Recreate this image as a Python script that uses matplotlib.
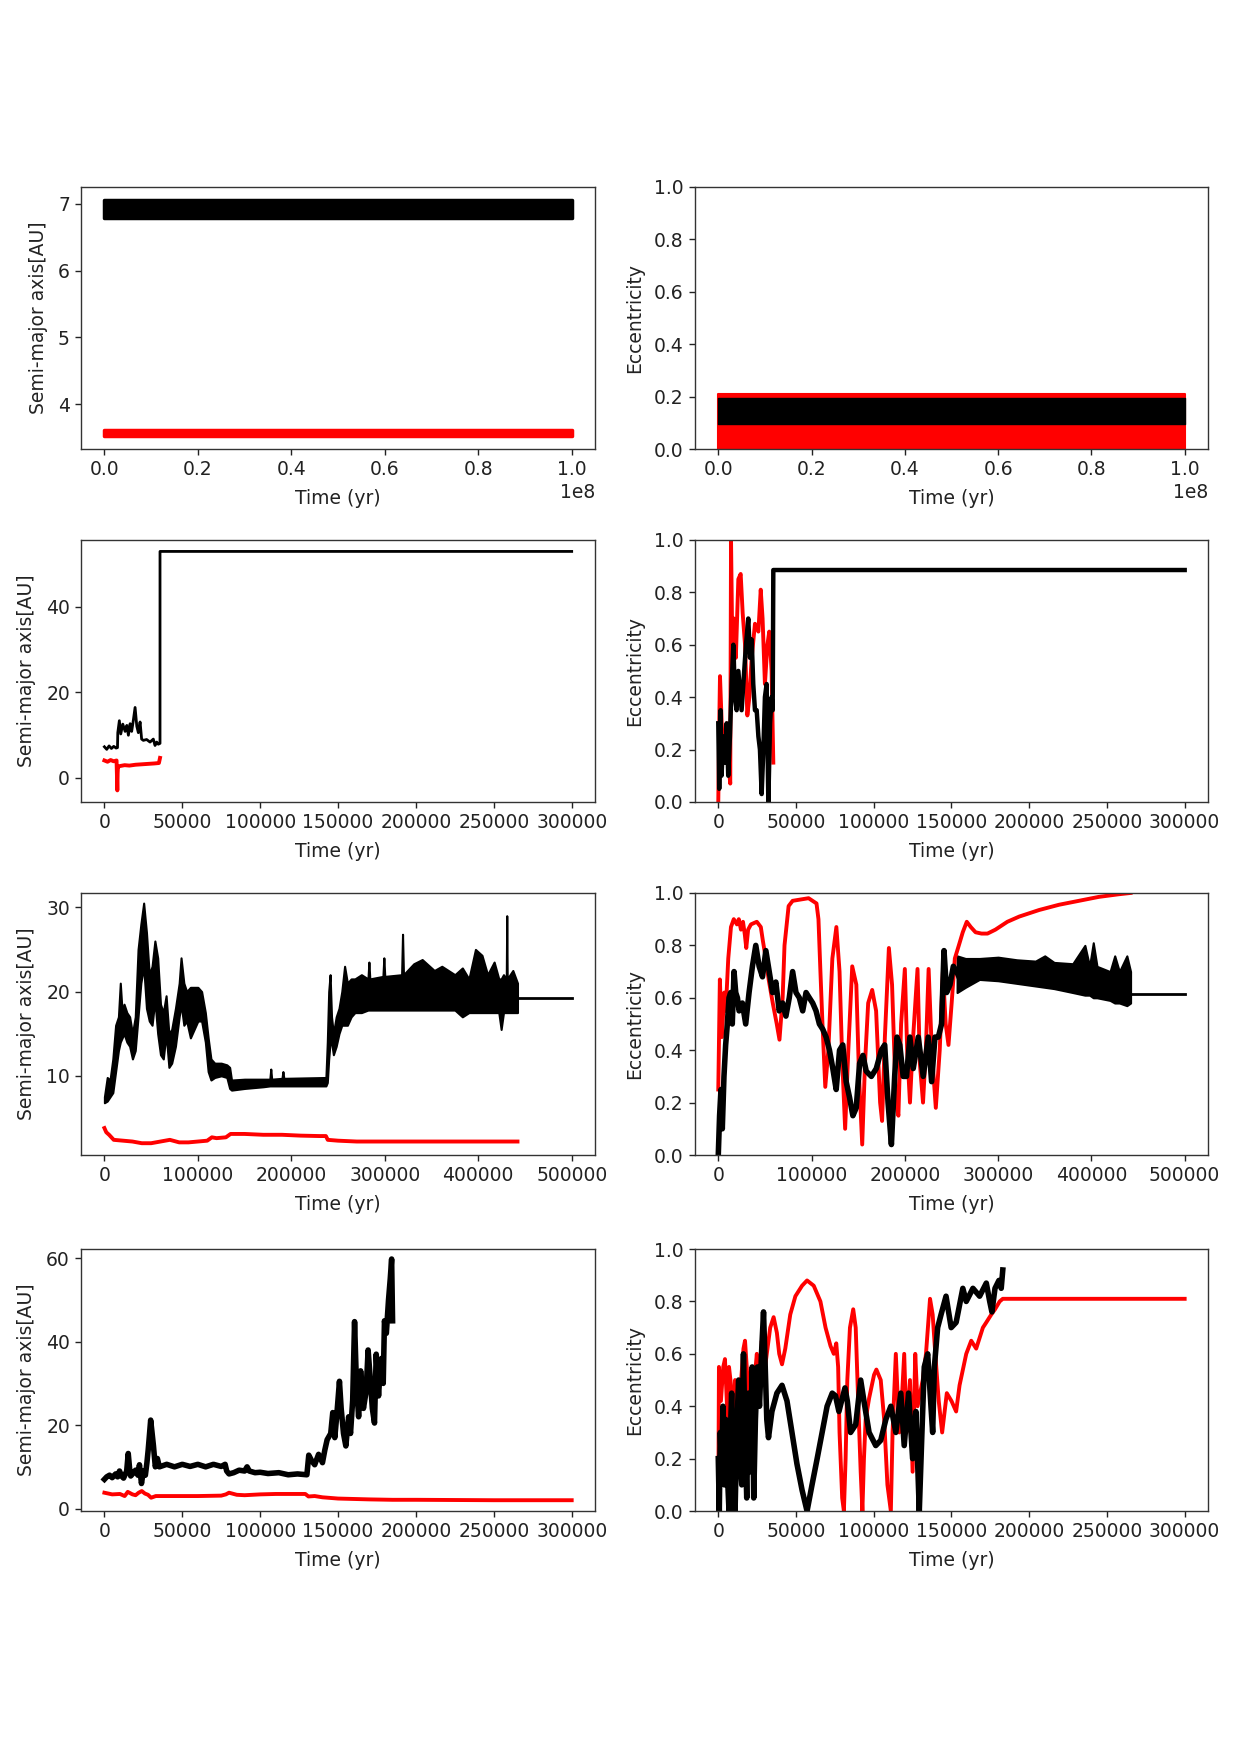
import numpy as np
import matplotlib
matplotlib.use("Agg")
import matplotlib.pyplot as plt

# ---------------- data ----------------
# row 1: long 1e8 yr run, thick bands (t, lower edge, upper edge)
t1 = [0, 1e8]
a1_black_lo = [6.78, 6.78]
a1_black_hi = [7.06, 7.06]
a1_red_lo = [3.52, 3.52]
a1_red_hi = [3.62, 3.62]
e1_red_lo = [0.0, 0.0]
e1_red_hi = [0.21, 0.21]
e1_black_lo = [0.095, 0.095]
e1_black_hi = [0.195, 0.195]

# row 2: (t [yr], value)
p3_black = np.array([[0, 7.2], [1500, 6.6], [3000, 7.4], [4500, 6.8], [6000, 7.3], [7500, 6.9],
                     [8400, 7.0], [8600, 10.5], [9600, 13.3], [10500, 10.2], [11800, 12.5],
                     [13300, 10.8], [14400, 12.2], [15400, 9.9], [16500, 12.6], [17500, 10.8],
                     [18500, 13.2], [19700, 16.4], [20800, 12.0], [21800, 10.5], [22900, 13.0],
                     [23900, 9.0], [25000, 8.7], [27100, 8.9], [29300, 8.3], [31400, 9.0],
                     [32500, 7.5], [33600, 8.3], [34600, 7.8], [35700, 8.0], [35700, 52.9],
                     [300000, 52.9]])
p3_red = np.array([[0, 4.0], [2000, 3.7], [4000, 4.1], [6000, 3.8], [7800, 4.0], [8300, -3.0],
                   [8500, 1.0], [8700, 2.5], [10000, 2.7], [13000, 2.9], [16000, 2.8],
                   [20000, 3.0], [24000, 3.1], [28000, 3.2], [32000, 3.3], [35000, 3.4],
                   [35700, 4.6]])
p4_red = np.array([[0, 0.0], [500, 0.25], [1100, 0.48], [2200, 0.3], [3200, 0.2], [5400, 0.3],
                   [6500, 0.15], [7700, 0.07], [8200, 1.0], [9000, 0.6], [10100, 0.7],
                   [11300, 0.55], [12900, 0.85], [14400, 0.87], [15700, 0.72], [17200, 0.6],
                   [18700, 0.33], [20000, 0.4], [21500, 0.55], [23600, 0.68], [25800, 0.65],
                   [27300, 0.81], [28500, 0.7], [30000, 0.45], [31600, 0.6], [32800, 0.65],
                   [34300, 0.5], [35400, 0.15]])
p4_black = np.array([[0, 0.3], [600, 0.05], [1500, 0.35], [2100, 0.1], [3200, 0.25], [4300, 0.15],
                     [5400, 0.3], [6400, 0.1], [7500, 0.25], [8600, 0.45], [9700, 0.6],
                     [10700, 0.4], [11800, 0.35], [12900, 0.5], [15000, 0.35], [17800, 0.6],
                     [19300, 0.7], [20400, 0.55], [21500, 0.62], [22500, 0.45], [23600, 0.35],
                     [24700, 0.35], [25800, 0.25], [26800, 0.2], [27900, 0.03], [29000, 0.2],
                     [30000, 0.4], [31100, 0.45], [32200, 0.0], [33300, 0.3], [34300, 0.4],
                     [35000, 0.35], [35400, 0.885], [300000, 0.885]])

# row 3: black a as a noisy band (t, low, high), then a flat tail
p5_black_band = np.array([
    [0, 6.8, 7.5], [3000, 7.0, 9.8], [6000, 7.5, 9.5], [9000, 8.0, 12.0], [12000, 10.5, 16.0],
    [15000, 13.0, 17.0], [17000, 14.0, 21.0], [19000, 14.5, 17.5], [21000, 15.0, 18.5],
    [24000, 14.0, 17.5], [27000, 13.5, 17.0], [30000, 12.0, 15.0], [33000, 13.0, 17.0],
    [36000, 17.0, 25.0], [39000, 21.0, 28.0], [42000, 23.0, 30.5], [45000, 18.0, 27.0],
    [48000, 16.5, 22.0], [51000, 16.0, 23.0], [54000, 19.0, 26.0], [57000, 15.0, 24.0],
    [60000, 12.5, 18.5], [63000, 12.0, 17.5], [66000, 15.0, 19.5], [69000, 11.0, 15.0],
    [72000, 11.5, 15.5], [76000, 13.5, 18.0], [80000, 17.0, 21.0], [82000, 18.5, 24.0],
    [85000, 16.0, 21.0], [88000, 16.5, 20.0], [92000, 14.5, 20.5], [96000, 15.5, 20.5],
    [100000, 16.5, 20.5], [104000, 16.5, 20.0], [108000, 14.0, 17.5], [111000, 10.5, 14.5],
    [114000, 9.5, 12.0], [118000, 9.8, 11.5], [125000, 10.0, 11.5], [131000, 9.8, 11.3],
    [134000, 8.5, 11.0], [136000, 8.3, 9.5], [150000, 8.5, 9.6], [170000, 8.7, 9.6],
    [177000, 8.8, 9.6], [178000, 8.8, 10.8], [179000, 8.8, 9.6], [190000, 8.8, 9.7],
    [191000, 8.8, 10.5], [192000, 8.8, 9.7], [237000, 8.8, 9.8], [238500, 9.2, 14.0],
    [240000, 12.0, 20.0], [241500, 14.0, 22.0], [243000, 14.0, 17.0], [245000, 12.5, 15.0],
    [248000, 13.5, 17.0], [251000, 15.0, 18.0], [254000, 16.0, 20.0], [257000, 16.0, 23.0],
    [260000, 16.0, 21.0], [264000, 17.0, 21.5], [268000, 17.5, 21.5], [275000, 17.5, 22.0],
    [282000, 17.8, 21.5], [283000, 17.8, 23.5], [284000, 17.8, 21.5], [298000, 17.8, 21.8],
    [299000, 17.8, 24.0], [300000, 17.8, 21.8], [318000, 17.8, 22.0], [319000, 17.8, 26.8],
    [320000, 17.8, 22.0], [331000, 17.8, 23.3], [340000, 17.8, 23.8], [353000, 17.8, 22.5],
    [361000, 17.8, 23.0], [375000, 17.8, 22.0], [383000, 17.0, 22.8], [390000, 17.5, 21.5],
    [397000, 17.5, 25.0], [404000, 17.5, 24.3], [410000, 17.5, 22.0], [417000, 17.5, 23.5],
    [422000, 17.5, 21.5], [424500, 15.5, 21.5], [427000, 17.5, 22.0], [430000, 17.5, 21.5],
    [430500, 17.5, 29.0], [431000, 17.5, 21.5], [437000, 17.5, 22.5], [442000, 17.5, 21.0]])
p5_black_tail = np.array([[442000, 19.2], [500000, 19.2]])
p5_red = np.array([[0, 3.8], [2000, 3.3], [5000, 3.0], [10000, 2.4], [20000, 2.3], [30000, 2.2],
                   [40000, 2.0], [50000, 2.0], [60000, 2.2], [70000, 2.4], [80000, 2.1],
                   [90000, 2.1], [100000, 2.2], [110000, 2.3], [115000, 2.7], [120000, 2.6],
                   [130000, 2.7], [135000, 3.1], [150000, 3.1], [170000, 3.0], [190000, 3.0],
                   [210000, 2.9], [230000, 2.85], [237000, 2.85], [239000, 2.4], [250000, 2.3],
                   [270000, 2.2], [300000, 2.2], [350000, 2.2], [400000, 2.2], [442000, 2.2]])

p6_red = np.array([[0, 0.25], [1700, 0.67], [3800, 0.45], [6400, 0.62], [8000, 0.55],
                   [10700, 0.75], [13600, 0.87], [16600, 0.9], [20000, 0.88], [22000, 0.9],
                   [24300, 0.86], [26500, 0.89], [28500, 0.84], [30000, 0.79], [32000, 0.86],
                   [35000, 0.88], [41300, 0.89], [45600, 0.87], [47700, 0.82], [50000, 0.77],
                   [54000, 0.67], [58400, 0.58], [62700, 0.5], [65600, 0.44], [69000, 0.6],
                   [71000, 0.8], [75400, 0.95], [79700, 0.97], [88200, 0.975], [96800, 0.98],
                   [105300, 0.96], [107400, 0.9], [109500, 0.7], [111700, 0.5], [114700, 0.26],
                   [118000, 0.4], [122300, 0.75], [126600, 0.87], [130000, 0.7], [133000, 0.35],
                   [136000, 0.1], [139400, 0.4], [143600, 0.72], [148000, 0.65], [150900, 0.3],
                   [154300, 0.04], [157300, 0.35], [160700, 0.58], [165000, 0.63], [169200, 0.55],
                   [173500, 0.2], [175600, 0.13], [178600, 0.45], [182900, 0.79], [186300, 0.65],
                   [190500, 0.2], [193100, 0.15], [196000, 0.5], [200000, 0.71], [202500, 0.4],
                   [205500, 0.2], [208900, 0.45], [213600, 0.71], [216100, 0.35], [219500, 0.2],
                   [222500, 0.4], [225500, 0.71], [228900, 0.4], [233200, 0.18], [237400, 0.4],
                   [240800, 0.7], [243800, 0.5], [246800, 0.42], [250200, 0.58], [253600, 0.75],
                   [257900, 0.8], [262100, 0.85], [266400, 0.89], [270700, 0.87], [275800, 0.85],
                   [282200, 0.845], [288600, 0.845], [297100, 0.86], [309900, 0.89],
                   [322700, 0.91], [344000, 0.935], [365300, 0.955], [386600, 0.97],
                   [407900, 0.985], [429200, 0.995], [442000, 1.0]])
p6_black = np.array([[0, 0.0], [1400, 0.15], [2900, 0.25], [4300, 0.1], [6100, 0.3], [7900, 0.42],
                     [9700, 0.5], [11500, 0.6], [13300, 0.62], [15000, 0.5], [16900, 0.7],
                     [18700, 0.62], [20500, 0.6], [22300, 0.55], [25800, 0.58], [29400, 0.5],
                     [33000, 0.62], [36600, 0.72], [40200, 0.8], [43800, 0.72], [47400, 0.68],
                     [51000, 0.78], [54600, 0.7], [58200, 0.62], [61700, 0.66], [65300, 0.55],
                     [68900, 0.58], [72500, 0.53], [76100, 0.6], [79700, 0.7], [83300, 0.62],
                     [86900, 0.6], [90500, 0.55], [94100, 0.62], [97600, 0.6], [101200, 0.58],
                     [104800, 0.55], [108400, 0.5], [112000, 0.48], [115600, 0.45], [119200, 0.4],
                     [122800, 0.33], [126400, 0.25], [130000, 0.4], [133500, 0.42], [137100, 0.28],
                     [140700, 0.22], [144300, 0.15], [147900, 0.18], [151500, 0.35], [155100, 0.38],
                     [158600, 0.32], [164100, 0.3], [169400, 0.33], [174800, 0.4], [178400, 0.42],
                     [182000, 0.2], [185600, 0.04], [189100, 0.3], [191600, 0.45], [194600, 0.42],
                     [198200, 0.3], [201800, 0.3], [205400, 0.45], [209000, 0.33], [214400, 0.45],
                     [219700, 0.3], [225100, 0.45], [228700, 0.28], [232300, 0.45], [235900, 0.45],
                     [239400, 0.5], [242000, 0.78], [244800, 0.62], [248400, 0.65], [252000, 0.72],
                     [255600, 0.7], [258000, 0.68]])
p6_black_band = np.array([
    [256000, 0.62, 0.76], [265000, 0.64, 0.75], [280000, 0.67, 0.75], [300000, 0.665, 0.755],
    [320000, 0.655, 0.745], [340000, 0.645, 0.74], [350000, 0.64, 0.76], [360000, 0.635, 0.735],
    [380000, 0.62, 0.73], [393000, 0.61, 0.8], [398000, 0.61, 0.72], [402000, 0.6, 0.81],
    [406000, 0.6, 0.72], [420000, 0.59, 0.7], [425000, 0.58, 0.76], [430000, 0.58, 0.7],
    [438000, 0.57, 0.76], [442000, 0.58, 0.7]])
p6_black_tail = np.array([[442000, 0.615], [500000, 0.615]])

# row 4
p7_black = np.array([[0, 7.0], [1500, 7.6], [3300, 8.0], [5000, 7.4], [7200, 8.3], [8500, 7.6],
                     [9700, 9.0], [11000, 7.8], [12300, 7.3], [14300, 9.0], [15300, 13.2],
                     [16200, 9.5], [16900, 7.8], [18500, 8.5], [20000, 9.2], [21500, 8.0],
                     [22500, 10.5], [23200, 8.0], [23800, 6.0], [25000, 9.0], [26300, 8.0],
                     [27300, 11.0], [28100, 14.0], [29000, 18.0], [29700, 21.2], [30500, 18.5],
                     [31500, 15.0], [32200, 12.0], [32700, 10.0], [34000, 12.0], [35300, 10.0],
                     [40000, 10.6], [45000, 10.0], [50000, 10.6], [55000, 10.1], [60000, 10.6],
                     [65000, 10.0], [70000, 10.6], [75000, 10.1], [77500, 10.6], [78500, 9.0],
                     [80000, 8.3], [83000, 8.6], [86500, 9.2], [90000, 9.0], [91600, 10.0],
                     [93000, 9.0], [96700, 8.6], [100000, 8.7], [105000, 8.4], [112000, 8.6],
                     [118000, 8.1], [124000, 8.3], [130000, 8.1], [131200, 12.8], [133000, 11.5],
                     [135000, 10.5], [137500, 13.0], [140000, 11.0], [141500, 14.0], [143000, 16.5],
                     [145300, 18.0], [146600, 23.0], [147900, 17.0], [149100, 22.0], [150900, 30.5],
                     [152000, 24.0], [153500, 18.0], [155000, 15.0], [156800, 22.0], [158000, 18.0],
                     [159400, 26.0], [160600, 44.8], [161800, 30.0], [163200, 22.0], [164500, 33.0],
                     [166300, 24.0], [168000, 28.0], [169300, 38.0], [170500, 32.0], [172000, 24.0],
                     [173400, 20.5], [174500, 37.0], [176000, 27.0], [177000, 33.0], [178000, 36.0],
                     [179000, 30.0], [179800, 45.0], [181000, 42.0], [182400, 50.0], [183500, 55.0],
                     [184400, 59.8], [185000, 45.0]])
p7_red = np.array([[0, 3.8], [5000, 3.4], [10000, 3.5], [13000, 3.0], [15000, 4.0], [18000, 3.4],
                   [20000, 3.2], [22000, 3.8], [24000, 4.2], [26000, 3.6], [28000, 3.3],
                   [30000, 2.6], [33000, 3.0], [40000, 3.0], [50000, 3.0], [60000, 3.0],
                   [75000, 3.1], [78000, 3.4], [80000, 3.8], [83000, 3.5], [85000, 3.3],
                   [90000, 3.2], [100000, 3.4], [110000, 3.5], [120000, 3.5], [129000, 3.5],
                   [131000, 2.9], [135000, 3.0], [140000, 2.7], [150000, 2.4], [160000, 2.3],
                   [170000, 2.2], [185000, 2.1], [200000, 2.1], [250000, 2.0], [300000, 2.0]])

p8_red = np.array([[0, 0.0], [430, 0.55], [1700, 0.42], [3200, 0.55], [4300, 0.58], [6000, 0.35],
                   [6900, 0.55], [8200, 0.48], [9700, 0.2], [10800, 0.5], [11900, 0.2],
                   [12900, 0.35], [14700, 0.5], [16200, 0.62], [17200, 0.65], [19400, 0.45],
                   [21500, 0.3], [23300, 0.5], [24800, 0.6], [25900, 0.4], [28000, 0.65],
                   [29100, 0.5], [31200, 0.6], [33400, 0.7], [35600, 0.74], [37700, 0.68],
                   [39200, 0.6], [41000, 0.56], [43100, 0.62], [46300, 0.75], [49600, 0.82],
                   [53900, 0.86], [57100, 0.88], [61400, 0.86], [65700, 0.8], [69000, 0.7],
                   [72200, 0.63], [74300, 0.6], [75900, 0.64], [77100, 0.55], [78000, 0.3],
                   [79700, 0.05], [80800, 0.0], [81900, 0.2], [83000, 0.5], [84700, 0.7],
                   [86800, 0.77], [88400, 0.7], [90100, 0.4], [91600, 0.15], [92700, 0.0],
                   [93700, 0.2], [94800, 0.35], [97000, 0.43], [100200, 0.52], [101700, 0.54],
                   [104500, 0.5], [106700, 0.35], [108800, 0.1], [111000, 0.0], [112100, 0.3],
                   [114200, 0.6], [116400, 0.3], [117400, 0.35], [119600, 0.6], [121100, 0.3],
                   [123300, 0.5], [125000, 0.15], [126700, 0.6], [128200, 0.4], [131500, 0.5],
                   [133600, 0.6], [136200, 0.81], [137900, 0.75], [139600, 0.6], [141800, 0.42],
                   [144000, 0.3], [147000, 0.45], [150000, 0.42], [153000, 0.38], [155200, 0.48],
                   [159500, 0.6], [162700, 0.65], [165900, 0.62], [170200, 0.7], [172400, 0.72],
                   [175600, 0.75], [178000, 0.77], [181000, 0.8], [183000, 0.81], [300000, 0.81]])
p8_black = np.array([[0, 0.2], [650, 0.0], [1300, 0.3], [2200, 0.15], [3000, 0.4], [3900, 0.1],
                     [4700, 0.35], [5800, 0.15], [6900, 0.0], [7800, 0.3], [8600, 0.45],
                     [9700, 0.1], [10800, 0.0], [12100, 0.35], [13100, 0.5], [14000, 0.2],
                     [15100, 0.1], [16200, 0.6], [17200, 0.3], [18300, 0.05], [19400, 0.45],
                     [20500, 0.15], [21800, 0.55], [22800, 0.05], [23900, 0.35], [25200, 0.55],
                     [26500, 0.4], [27800, 0.6], [29100, 0.76], [30200, 0.55], [31200, 0.35],
                     [32300, 0.28], [34500, 0.38], [37700, 0.45], [41000, 0.48], [44200, 0.42],
                     [47400, 0.3], [50600, 0.18], [53900, 0.08], [57100, 0.0], [60300, 0.1],
                     [63600, 0.2], [66800, 0.3], [70000, 0.4], [73300, 0.45], [75400, 0.44],
                     [77600, 0.38], [79300, 0.42], [81500, 0.47], [83000, 0.42], [85100, 0.3],
                     [88400, 0.33], [91600, 0.5], [93700, 0.42], [97000, 0.3], [101300, 0.25],
                     [104500, 0.27], [107800, 0.35], [111000, 0.4], [114200, 0.3], [117400, 0.45],
                     [119600, 0.25], [122400, 0.45], [125000, 0.2], [127100, 0.38], [129300, 0.0],
                     [131000, 0.3], [132500, 0.55], [134700, 0.6], [136800, 0.4], [137900, 0.3],
                     [139000, 0.55], [141100, 0.7], [143300, 0.75], [146500, 0.82], [149800, 0.7],
                     [153000, 0.72], [157300, 0.85], [159500, 0.8], [163800, 0.85], [168100, 0.82],
                     [172400, 0.87], [174600, 0.8], [176000, 0.76], [178000, 0.85], [180500, 0.88],
                     [182000, 0.85], [183000, 0.92]])

# ---------------- figure ----------------
plt.rcParams['font.size'] = 13.5
plt.rcParams['axes.linewidth'] = 1.0
plt.rcParams['axes.labelpad'] = 7.0
plt.rcParams['xtick.major.size'] = 4.5
plt.rcParams['ytick.major.size'] = 4.5
plt.rcParams['xtick.major.width'] = 1.0
plt.rcParams['ytick.major.width'] = 1.0
plt.rcParams['text.color'] = '#222222'
plt.rcParams['xtick.color'] = '#222222'
plt.rcParams['ytick.color'] = '#222222'
plt.rcParams['axes.labelcolor'] = '#222222'
plt.rcParams['axes.edgecolor'] = '#333333'

fig = plt.figure(figsize=(12.41, 17.54), dpi=100)
row_bottoms = [0.744, 0.5428, 0.3415, 0.1385]
h = 0.1494
axs = [[fig.add_axes([0.0653, b, 0.4142, h]), fig.add_axes([0.560, b, 0.4134, h])]
       for b in row_bottoms]

NOISY = 2.8
THICK = 4.0
FLAT = 2.0
ecc_ticks = [0.0, 0.2, 0.4, 0.6, 0.8, 1.0]
t300 = [0, 50000, 100000, 150000, 200000, 250000, 300000]
t500 = [0, 100000, 200000, 300000, 400000, 500000]

# row 1
ax = axs[0][0]
ax.fill_between(t1, a1_red_lo, a1_red_hi, color='red', lw=2.5, edgecolor='red')
ax.fill_between(t1, a1_black_lo, a1_black_hi, color='black', lw=2.5, edgecolor='black')
ax.set_ylim(3.33, 7.25)
ax.set_yticks([4, 5, 6, 7])
ax.set_xticks([0, 0.2e8, 0.4e8, 0.6e8, 0.8e8, 1.0e8])

ax = axs[0][1]
ax.fill_between(t1, e1_red_lo, e1_red_hi, color='red', lw=1.5, edgecolor='red')
ax.fill_between(t1, e1_black_lo, e1_black_hi, color='black', lw=1.0, edgecolor='black')
ax.set_xticks([0, 0.2e8, 0.4e8, 0.6e8, 0.8e8, 1.0e8])

# row 2
ax = axs[1][0]
ax.plot(p3_red[:, 0], p3_red[:, 1], color='red', lw=NOISY)
ax.plot(p3_black[:, 0], p3_black[:, 1], color='black', lw=FLAT)
ax.set_ylim(-5.7, 55.6)
ax.set_yticks([0, 20, 40])
ax.set_xticks(t300)

ax = axs[1][1]
ax.plot(p4_red[:, 0], p4_red[:, 1], color='red', lw=NOISY)
ax.plot(p4_black[:, 0], p4_black[:, 1], color='black', lw=3.2)
ax.set_xticks(t300)

# row 3
ax = axs[2][0]
ax.plot(p5_red[:, 0], p5_red[:, 1], color='red', lw=NOISY)
ax.fill_between(p5_black_band[:, 0], p5_black_band[:, 1], p5_black_band[:, 2],
                color='black', edgecolor='black', lw=1.5)
ax.plot(p5_black_tail[:, 0], p5_black_tail[:, 1], color='black', lw=FLAT)
ax.set_ylim(0.6, 31.7)
ax.set_yticks([10, 20, 30])
ax.set_xticks(t500)

ax = axs[2][1]
ax.plot(p6_red[:, 0], p6_red[:, 1], color='red', lw=NOISY)
ax.plot(p6_black[:, 0], p6_black[:, 1], color='black', lw=THICK)
ax.fill_between(p6_black_band[:, 0], p6_black_band[:, 1], p6_black_band[:, 2],
                color='black', edgecolor='black', lw=1.5)
ax.plot(p6_black_tail[:, 0], p6_black_tail[:, 1], color='black', lw=FLAT)
ax.set_xticks(t500)

# row 4
ax = axs[3][0]
ax.plot(p7_red[:, 0], p7_red[:, 1], color='red', lw=NOISY)
ax.plot(p7_black[:, 0], p7_black[:, 1], color='black', lw=THICK)
ax.set_ylim(-0.6, 62.2)
ax.set_yticks([0, 20, 40, 60])
ax.set_xticks(t300)

ax = axs[3][1]
ax.plot(p8_red[:, 0], p8_red[:, 1], color='red', lw=NOISY)
ax.plot(p8_black[:, 0], p8_black[:, 1], color='black', lw=THICK)
ax.set_xticks(t300)

for row in axs:
    row[0].set_ylabel('Semi-major axis[AU]')
    row[1].set_ylabel('Eccentricity')
    row[1].set_ylim(0, 1.0)
    row[1].set_yticks(ecc_ticks)
    for ax in row:
        ax.set_xlabel('Time (yr)')

fig.savefig('out.png', dpi=100)
